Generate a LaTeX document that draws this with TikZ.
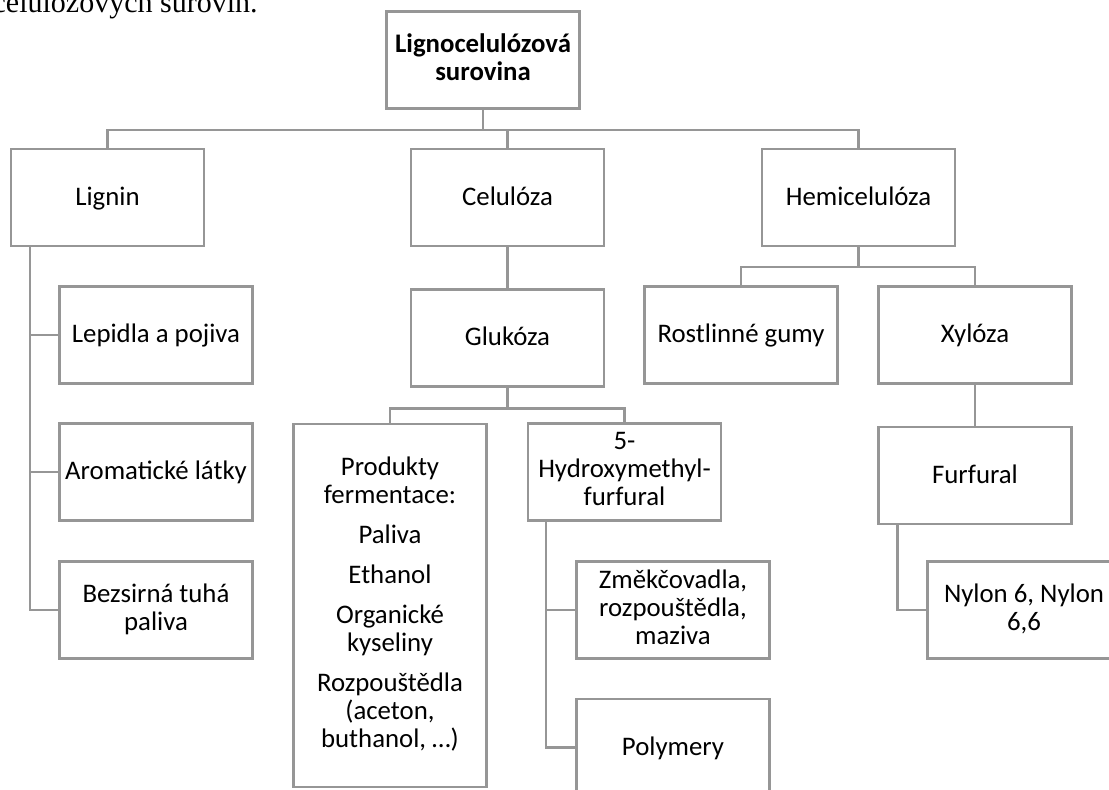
\documentclass[tikz,border=0pt]{standalone}
\usepackage{fontspec}
\setmainfont{Carlito}
\newfontfamily\capserif{Liberation Serif}
\usepackage{xcolor}
\usetikzlibrary{positioning,calc}
\definecolor{linegray}{RGB}{150,150,150}
\newcommand{\boxstrut}{\rule[-3pt]{0pt}{14pt}}
\tikzset{
  box/.style ={rectangle, draw=linegray, line width=1.25pt, fill=white,
               minimum width=96.5pt, minimum height=48.5pt, align=center,
               inner sep=2pt, font=\fontsize{13.4}{14}\selectfont,
               execute at begin node=\boxstrut, execute at end node=\boxstrut},
  tallbox/.style={box, minimum height=181.5pt},
  link/.style ={draw=linegray, line width=1.25pt},
}

\begin{document}
\begin{tikzpicture}[x=0.5pt, y=-0.5pt]
\useasboundingbox (0,0) rectangle (1109,790);
\clip (0,0) rectangle (1109,790);

\node[anchor=base east, inner sep=0pt, font=\capserif\fontsize{15}{17}\selectfont] (cap) at (258,12.5) {celulózových surovin.};

\node[box] (root) at (483,60) {\textbf{Lignocelulózová}\\\textbf{surovina}};

\node[box] (lignin) at (107.5,197.5) {Lignin};
\node[box] (cel)    at (507.5,197.5) {Celulóza};
\node[box] (hemi)   at (858.5,197.5) {Hemicelulóza};

\node[box] (lepidla) at (156,335) {Lepidla a pojiva};
\node[box] (arom)    at (156,472) {Aromatické látky};
\node[box] (bez)     at (156,610) {Bezsirná tuhá\\paliva};

\node[box, below=20.5pt of cel] (gluk) {Glukóza};
\node[tallbox] (prod) at (390,605.5) {Produkty\\fermentace:\\[6pt]Paliva\\[6pt]Ethanol\\[6pt]Organické\\kyseliny\\[6pt]Rozpouštědla\\(aceton,\\buthanol, …)};
\node[box] (hmf)  at (624.5,472) {5-\\Hydroxymethyl-\\furfural};
\node[box] (zmek) at (673,610) {Změkčovadla,\\rozpouštědla,\\maziva};
\node[box] (poly) at (673,747.5) {Polymery};

\node[box] (rost) at (741,335) {Rostlinné gumy};
\node[box] (xyl)  at (975,335) {Xylóza};
\node[box, below=20.5pt of xyl] (furf) {Furfural};
\node[box] (nylon) at (1024,610) {Nylon 6, Nylon\\6,6};

\draw[link] (root.south) -- ++(0,20.5) -| (lignin.north);
\draw[link] (root.south) -- ++(0,20.5) -| (cel.north);
\draw[link] (root.south) -- ++(0,20.5) -| (hemi.north);

\coordinate (lstem) at ($(lignin.south west)+(20,0)$);
\draw[link] (lstem) |- (lepidla.west);
\draw[link] (lstem) |- (arom.west);
\draw[link] (lstem) |- (bez.west);

\draw[link] (cel.south) -- (gluk.north);
\draw[link] (gluk.south) -- ++(0,21) -| (prod.north);
\draw[link] (gluk.south) -- ++(0,21) -| (hmf.north);
\coordinate (hstem) at ($(hmf.south west)+(19,0)$);
\draw[link] (hstem) |- (zmek.west);
\draw[link] (hstem) |- (poly.west);

\draw[link] (hemi.south) -- ++(0,20) -| (rost.north);
\draw[link] (hemi.south) -- ++(0,20) -| (xyl.north);
\draw[link] (xyl.south) -- (furf.north);
\coordinate (fstem) at ($(furf.south west)+(20,0)$);
\draw[link] (fstem) |- (nylon.west);

\end{tikzpicture}
\end{document}
